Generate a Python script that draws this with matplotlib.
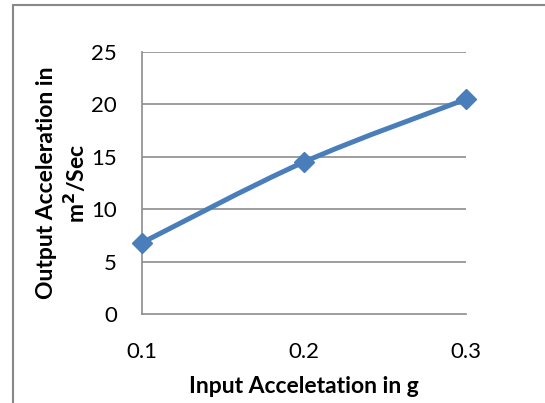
import matplotlib.pyplot as plt
from matplotlib.path import Path
from matplotlib.patches import PathPatch, Rectangle

input_g = [0.1, 0.2, 0.3]
output_acc = [6.8, 14.5, 20.5]
y_ticks = [0, 5, 10, 15, 20, 25]
x_labels = ["0.1", "0.2", "0.3"]

blue = "#4a7ebb"
grid_grey = "#8c8c8c"

plt.rcParams["font.family"] = ["Lato", "DejaVu Sans"]


def smooth_path(xs, ys):
    # Catmull-Rom style bezier through the points (like a smoothed line)
    pts = list(zip(xs, ys))
    verts = [pts[0]]
    codes = [Path.MOVETO]
    n = len(pts)
    for i in range(n - 1):
        p0 = pts[max(i - 1, 0)]
        p1 = pts[i]
        p2 = pts[i + 1]
        p3 = pts[min(i + 2, n - 1)]
        c1 = (p1[0] + (p2[0] - p0[0]) / 6, p1[1] + (p2[1] - p0[1]) / 6)
        c2 = (p2[0] - (p3[0] - p1[0]) / 6, p2[1] - (p3[1] - p1[1]) / 6)
        verts += [c1, c2, p2]
        codes += [Path.CURVE4] * 3
    return Path(verts, codes)


fig = plt.figure(figsize=(5.45, 4.03), dpi=100)
ax = fig.add_axes([142 / 545, 1 - 314 / 403, 324 / 545, 262 / 403])

ax.set_xlim(0.1, 0.3)
ax.set_ylim(0, 25)
ax.set_yticks(y_ticks)
ax.set_xticks(input_g)
ax.set_xticklabels(x_labels)

for t in y_ticks[1:]:
    ax.axhline(t, color=grid_grey, lw=1.2, zorder=1)

ax.add_patch(PathPatch(smooth_path(input_g, output_acc), fill=False,
                       edgecolor=blue, lw=3.6, capstyle="round", zorder=3,
                       clip_on=False))
ax.plot(input_g, output_acc, linestyle="none", marker="D", markersize=9.7,
        color=blue, zorder=4, clip_on=False)

for side in ["top", "right"]:
    ax.spines[side].set_visible(False)
for side in ["left", "bottom"]:
    ax.spines[side].set_color(grid_grey)
    ax.spines[side].set_linewidth(1.2)

ax.tick_params(length=0, labelsize=16, colors="black")
ax.tick_params(axis="y", pad=18)
ax.tick_params(axis="x", pad=20)

ax.set_xlabel("Input Acceletation in g", fontsize=16.5, fontweight="bold",
              labelpad=10)
ax.set_ylabel("Output Acceleration in\nm$^\\mathbf{2}$/Sec", fontsize=16.5,
              fontweight="bold", linespacing=1.25, labelpad=2)

# outer chart border
fig.patches.append(Rectangle((13 / 545, -0.1), 1.0, 1.1 - 5 / 403,
                             transform=fig.transFigure, fill=False,
                             edgecolor="#888888", lw=1.5))

fig.savefig("out.png", dpi=100, facecolor="white")
